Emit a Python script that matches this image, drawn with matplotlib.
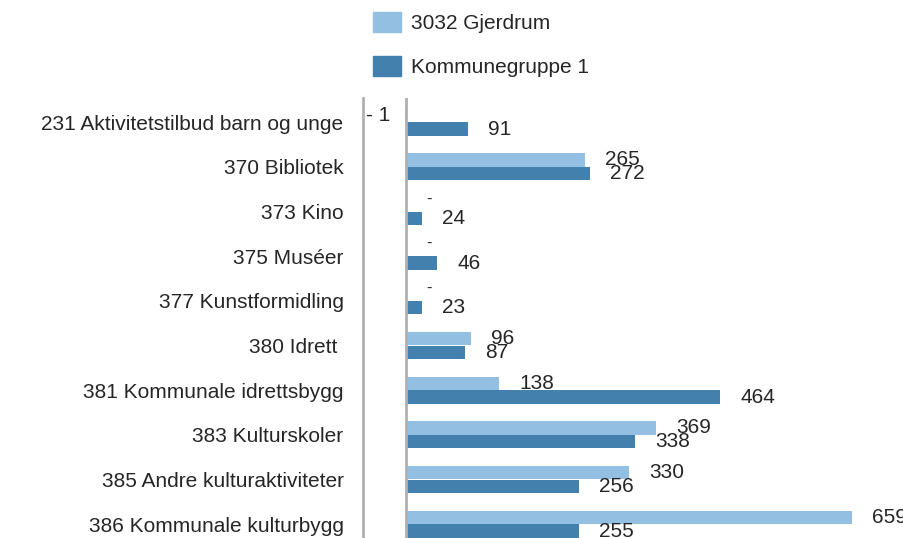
import matplotlib.pyplot as plt
from matplotlib.patches import Patch
from matplotlib import transforms

plt.rcParams['font.family'] = ['Liberation Sans', 'DejaVu Sans']

categories = ["231 Aktivitetstilbud barn og unge", "370 Bibliotek", "373 Kino",
              "375 Muséer", "377 Kunstformidling", "380 Idrett ",
              "381 Kommunale idrettsbygg", "383 Kulturskoler",
              "385 Andre kulturaktiviteter", "386 Kommunale kulturbygg"]
gjerdrum = [-1, 265, None, None, None, 96, 138, 369, 330, 659]
gruppe = [91, 272, 24, 46, 23, 87, 464, 338, 256, 255]
series_names = ["3032 Gjerdrum", "Kommunegruppe 1"]

light = "#93c0e2"
dark = "#4380ae"
txt = "#262626"
fs = 15

fig = plt.figure(figsize=(9.04, 5.38), dpi=100)
ax = fig.add_axes([363 / 904, 0, 1 - 363 / 904, 1 - 98 / 538])

h = 0.3
off = 0.155
y = list(range(len(categories)))
for i in y:
    g = gjerdrum[i]
    k = gruppe[i]
    if g is not None:
        ax.barh(i - off, g, height=h, color=light)
    ax.barh(i + off, k, height=h, color=dark)

    t_right = transforms.offset_copy(ax.transData, fig=fig, x=20, y=0, units="dots")
    t_left = transforms.offset_copy(ax.transData, fig=fig, x=-16, y=0, units="dots")
    if g is None:
        ax.text(0, i - off - 0.12, "-", transform=t_right,
                ha="left", va="center", fontsize=12, color=txt)
    elif g < 0:
        ax.text(0, i - off - 0.0, "- %d" % abs(g), transform=t_left, ha="right", va="center",
                fontsize=fs, color=txt)
    else:
        ax.text(g, i - off, "%d" % g, transform=t_right, ha="left", va="center",
                fontsize=fs, color=txt, clip_on=True)
    ax.text(k, i + off, "%d" % k, transform=t_right, ha="left", va="center",
            fontsize=fs, color=txt, clip_on=True)

ax.set_xlim(-63.5, 735.6)
ax.set_ylim(9.31, -0.54)
ax.axvline(0, color="#b0b0b0", lw=2)
ax.set_yticks(y)
ax.set_yticklabels(categories, fontsize=fs, color=txt)
ax.tick_params(axis="y", length=0, pad=14)
ax.set_xticks([])
for s in ["top", "right", "bottom"]:
    ax.spines[s].set_visible(False)
ax.spines["left"].set_color("#b0b0b0")
ax.spines["left"].set_linewidth(2)

handles = [Patch(color=light), Patch(color=dark)]
fig.legend(handles, series_names, loc="upper left", bbox_to_anchor=(354 / 904, 1 + 7 / 538),
           frameon=False, fontsize=fs, handlelength=1.35, handleheight=1.1,
           labelspacing=1.1, handletextpad=0.5, labelcolor=txt)

fig.savefig("out.png", dpi=100)
